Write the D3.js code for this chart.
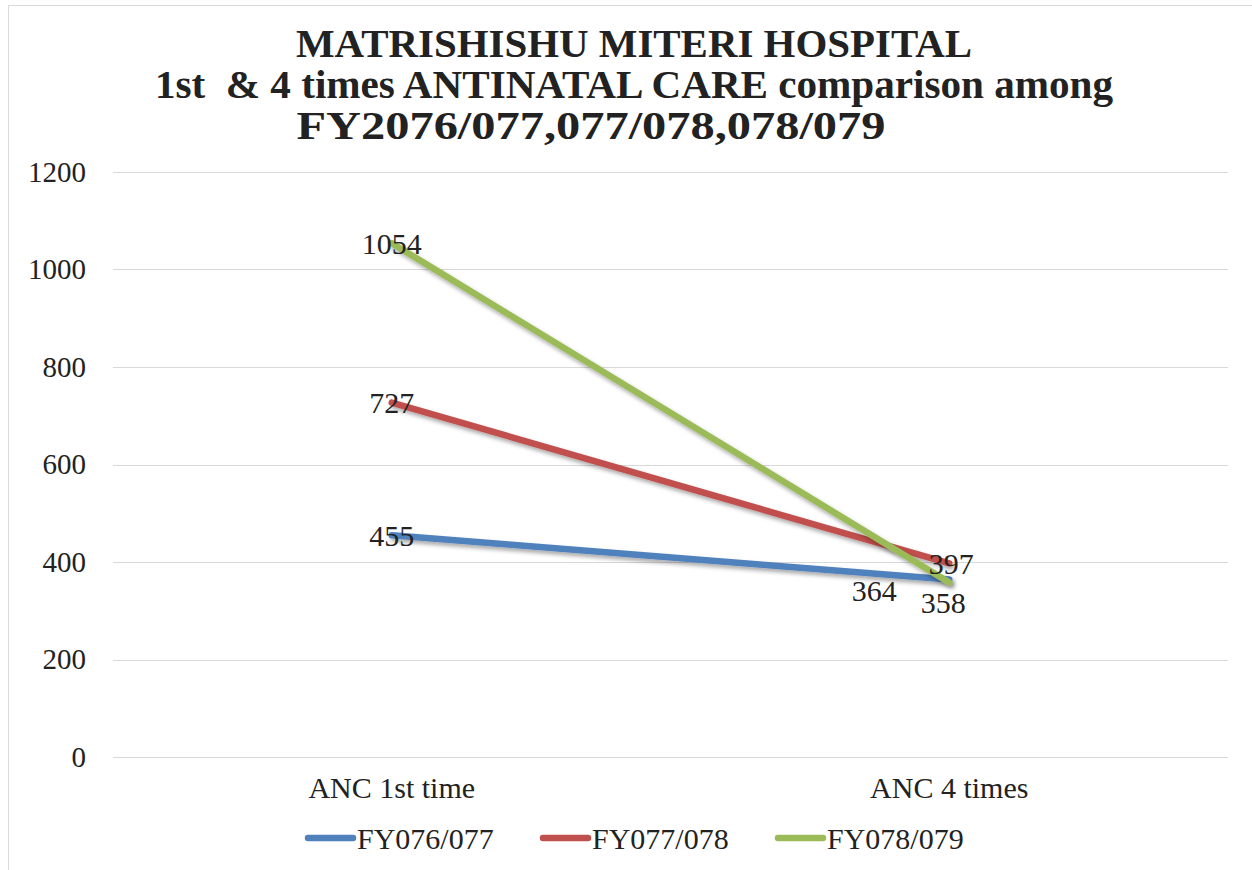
<!DOCTYPE html>
<html>
<head>
<meta charset="utf-8">
<script src="https://cdn.jsdelivr.net/npm/d3@7"></script>
<style>
body{margin:0;background:#fff;}
text{font-family:"Liberation Serif","Times New Roman",serif;fill:#222;}
</style>
</head>
<body>
<div class="chart"></div>
<script>
const categories = ["ANC 1st time", "ANC 4 times"];
const seriesNames = ["FY076/077", "FY077/078", "FY078/079"];
const fy076 = [455, 364];
const fy077 = [727, 397];
const fy078 = [1054, 358];
const yTicks = [0, 200, 400, 600, 800, 1000, 1200];
const titleLines = ["MATRISHISHU MITERI HOSPITAL", "1st  & 4 times ANTINATAL CARE comparison among", "FY2076/077,077/078,078/079"];

const colors = ["#4F81BD", "#C0504D", "#9BBB59"];
const series = seriesNames.map((n, i) => ({name: n, values: [fy076, fy077, fy078][i], color: colors[i]}));
// label nudges (dx, dy) per series/category, as in the picture
const labelNudge = [[[0, 0], [-75, 11]], [[0, 0], [2, 0]], [[0, 0], [-6, 20]]];

const W = 1252, H = 870;
const margin = {top: 172, left: 113, right: 24, bottom: 113};
const width = W - margin.left - margin.right;
const height = H - margin.top - margin.bottom;

const svg = d3.select(".chart").append("svg")
    .attr("width", W)
    .attr("height", H);

const defs = svg.append("defs");
const f = defs.append("filter").attr("id", "shadow")
    .attr("x", "-10%").attr("y", "-10%").attr("width", "130%").attr("height", "130%");
f.append("feDropShadow").attr("dx", 2).attr("dy", 3).attr("stdDeviation", 2)
    .attr("flood-color", "#000").attr("flood-opacity", 0.35);

// outer frame
svg.append("rect")
    .attr("x", 8.5).attr("y", 5.5)
    .attr("width", W).attr("height", H)
    .attr("fill", "none").attr("stroke", "#d9d9d9");

// title
svg.append("g").selectAll("text")
    .data(titleLines)
    .enter()
    .append("text")
    .attr("x", (d, i) => i == 2 ? 591 : 634)
    .attr("y", (d, i) => 57 + i * 41)
    .attr("text-anchor", "middle")
    .attr("font-size", 40)
    .attr("font-weight", "bold")
    .attr("textLength", (d, i) => [676, 958, 589][i])
    .attr("lengthAdjust", "spacingAndGlyphs")
    .style("white-space", "pre")
    .text(d => d);

const g = svg.append("g")
    .attr("transform", `translate(${margin.left},${margin.top})`);

const xScale = d3.scaleBand()
    .domain(categories)
    .range([0, width]);
const yScale = d3.scaleLinear()
    .domain([0, 1200])
    .range([height, 0]);

// grid
g.selectAll(".grid")
    .data(yTicks)
    .enter()
    .append("line")
    .attr("class", "grid")
    .attr("x1", 0).attr("x2", width)
    .attr("y1", d => Math.round(yScale(d)) + 0.5)
    .attr("y2", d => Math.round(yScale(d)) + 0.5)
    .attr("stroke", "#d9d9d9");

const yAxis = d3.axisLeft(yScale).tickValues(yTicks).tickFormat(d3.format("d")).tickSize(0).tickPadding(27);
g.append("g")
    .attr("class", "axis y-axis")
    .call(yAxis)
    .call(a => a.select(".domain").remove())
    .selectAll("text")
    .attr("font-size", 29)
    .attr("font-family", "Liberation Serif")
    .attr("fill", "#222");

const xAxis = d3.axisBottom(xScale).tickSize(0).tickPadding(20);
g.append("g")
    .attr("class", "axis x-axis")
    .attr("transform", `translate(0,${height})`)
    .call(xAxis)
    .call(a => a.select(".domain").remove())
    .selectAll("text")
    .attr("font-size", 30)
    .attr("font-family", "Liberation Serif")
    .attr("fill", "#222");

const line = d3.line()
    .x((d, i) => xScale(categories[i]) + xScale.bandwidth() / 2)
    .y(d => yScale(d));

g.selectAll(".series")
    .data(series)
    .enter()
    .append("path")
    .attr("class", "series")
    .attr("d", d => line(d.values))
    .attr("fill", "none")
    .attr("stroke", d => d.color)
    .attr("stroke-width", 6.5)
    .attr("stroke-linecap", "round")
    .attr("filter", "url(#shadow)");

series.forEach((s, si) => {
    g.selectAll(".lbl" + si)
        .data(s.values)
        .enter()
        .append("text")
        .attr("x", (d, i) => xScale(categories[i]) + xScale.bandwidth() / 2 + labelNudge[si][i][0])
        .attr("y", (d, i) => yScale(d) + labelNudge[si][i][1])
        .attr("dy", "0.35em")
        .attr("text-anchor", "middle")
        .attr("font-size", 30)
        .text(d => d);
});

// legend
const legend = svg.append("g").attr("transform", "translate(305,838)");
const legX = [0, 235, 470];
legend.selectAll(".legend-line")
    .data(series)
    .enter()
    .append("line")
    .attr("x1", (d, i) => legX[i] + 3)
    .attr("x2", (d, i) => legX[i] + 48)
    .attr("y1", 0).attr("y2", 0)
    .attr("stroke", d => d.color)
    .attr("stroke-width", 6.5)
    .attr("stroke-linecap", "round");
legend.selectAll(".legend-label")
    .data(series)
    .enter()
    .append("text")
    .attr("x", (d, i) => legX[i] + 52)
    .attr("y", 0)
    .attr("dy", "0.35em")
    .attr("font-size", 30)
    .text(d => d.name);
</script>
</body>
</html>
